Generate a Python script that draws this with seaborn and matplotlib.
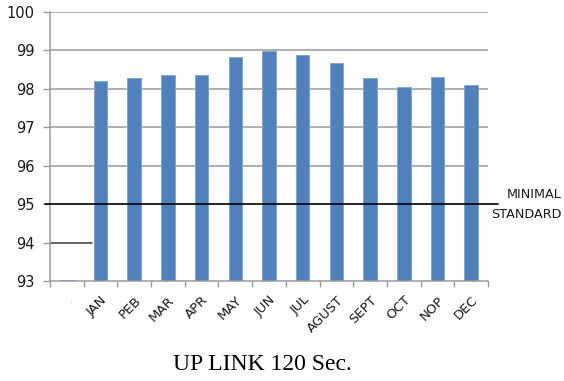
import numpy as np
import matplotlib
matplotlib.use("Agg")
import matplotlib.pyplot as plt
import matplotlib.transforms as mtransforms
import seaborn as sns

# Monthly uplink success rate (%) for 120-second window
months = [".", "JAN", "PEB", "MAR", "APR", "MAY", "JUN", "JUL",
          "AGUST", "SEPT", "OCT", "NOP", "DEC"]
values = [93.02, 98.21, 98.27, 98.36, 98.36, 98.83, 98.99, 98.88,
          98.67, 98.27, 98.04, 98.30, 98.10]
y_ticks = [93, 94, 95, 96, 97, 98, 99, 100]
standard = 95
title = "UP LINK 120 Sec."

sns.set_theme(style="white")
plt.rcParams["font.family"] = ["DejaVu Sans"]

fig = plt.figure(figsize=(5.64, 3.81), dpi=100)
ax = fig.add_axes([50 / 564, 1 - 281 / 381, 438 / 564, 269 / 381])

sns.barplot(x=months, y=values, color="#4f81bd", width=0.4, ax=ax,
            saturation=1, edgecolor="#7ea3d1", linewidth=0.6)

ax.set_ylim(93, 100)
ax.set_xlim(-0.5, len(months) - 0.5)
ax.set_yticks(y_ticks)
ax.set_yticklabels([str(t) for t in y_ticks], fontsize=10.5, color="#1a1a1a")

# Gridlines (skipping 94 and 95, drawn separately)
grid_c = "#9a9a9a"
for t in [96, 97, 98, 99, 100]:
    ax.axhline(t, color=grid_c, lw=1.1, zorder=0)
ax.plot([-0.5, 0.75], [94, 94], color="#3a3a3a", lw=1.1, zorder=0)

# Category boundary ticks and centered labels
ax.set_xticks(np.arange(-0.5, len(months), 1))
ax.set_xticklabels([])
ax.set_xticks(np.arange(len(months)), minor=True)
ax.set_xticklabels(months, minor=True, rotation=45, ha="right",
                   rotation_mode="anchor", fontsize=9.5, color="#1a1a1a")
ax.tick_params(axis="x", which="major", length=4, width=1, color=grid_c,
               direction="out", bottom=True)
ax.tick_params(axis="x", which="minor", length=0, pad=9, bottom=True)
ax.tick_params(axis="y", length=5, width=1, color=grid_c, direction="out",
               left=True, pad=6)
ax.xaxis.get_minorticklabels()[0].set_color("#b0b0b0")

for side in ["top", "right"]:
    ax.spines[side].set_visible(False)
for side in ["left", "bottom"]:
    ax.spines[side].set_color(grid_c)
    ax.spines[side].set_linewidth(1.1)
ax.set_xlabel("")
ax.set_ylabel("")

# Minimal standard reference line
trans = mtransforms.blended_transform_factory(ax.transAxes, ax.transData)
ax.plot([-0.011, 1.023], [standard, standard], color="black", lw=1.2,
        transform=trans, clip_on=False, zorder=5)
fig.text(562 / 564, 1 - 195 / 381, "MINIMAL", ha="right", va="center",
         fontsize=9.2, color="#1a1a1a")
fig.text(562 / 564, 1 - 214 / 381, "STANDARD", ha="right", va="center",
         fontsize=9.2, color="#1a1a1a")

fig.text(262 / 564, 1 - 365 / 381, title, ha="center", va="center",
         fontsize=17, family="Liberation Serif", color="black")

fig.savefig("out.png", dpi=100)
